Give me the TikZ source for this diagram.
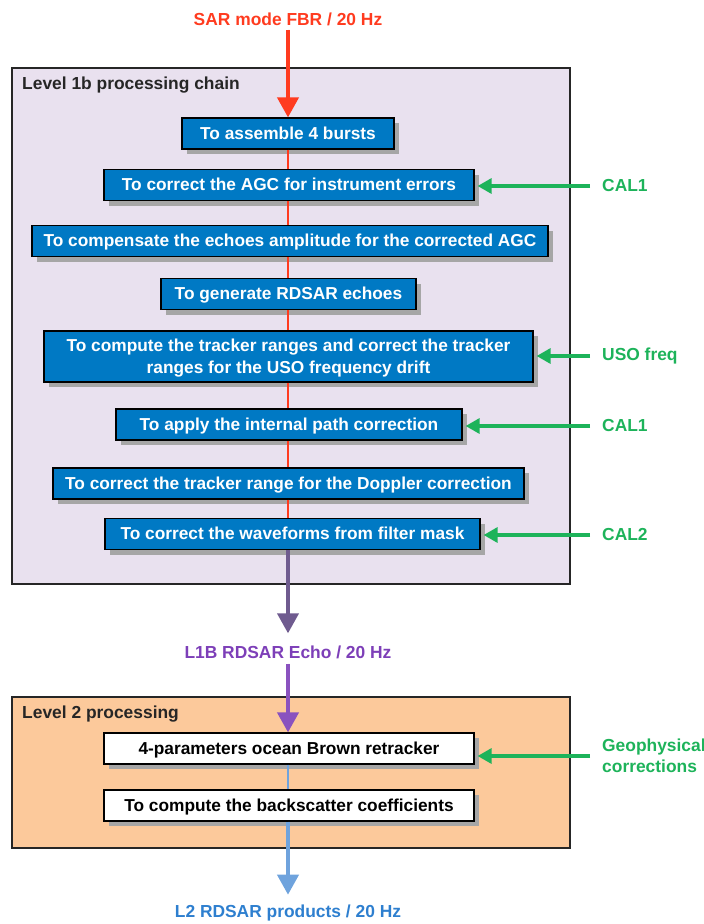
\documentclass[tikz,border=0pt]{standalone}
\usepackage{fontspec}
\setmainfont{Liberation Sans}
\usetikzlibrary{arrows.meta,positioning,shadows}
\definecolor{boxblue}{HTML}{0079C4}
\definecolor{chainfill}{HTML}{E9E1EF}
\definecolor{levelfill}{HTML}{FCC99B}
\definecolor{framegray}{HTML}{262626}
\definecolor{shadowgray}{HTML}{A6A6A6}
\definecolor{inred}{HTML}{FF3B1F}
\definecolor{calgreen}{HTML}{1DB35A}
\definecolor{echopurple}{HTML}{6F5B8F}
\definecolor{lblpurple}{HTML}{7D3FB8}
\definecolor{prodblue}{HTML}{6FA3DD}
\definecolor{lblblue}{HTML}{2E7FCF}
\tikzset{
    frame/.style={draw=framegray, line width=1.5pt},
    title/.style={anchor=west, font=\bfseries\fontsize{17.4}{20}\selectfont, text=framegray, inner sep=0pt},
    stepbox/.style={draw=black, line width=1.2pt, minimum height=31pt, inner sep=0pt,
        font=\bfseries\fontsize{17.3}{21.5}\selectfont, align=center, text depth=1pt,
        drop shadow={shadow xshift=5pt, shadow yshift=-5pt, fill=shadowgray, opacity=1}},
    bluebox/.style={stepbox, fill=boxblue, text=white},
    whitebox/.style={stepbox, fill=white, text=black},
    flowlbl/.style={font=\bfseries\fontsize{17.4}{20.5}\selectfont, inner sep=0pt, align=left},
    link/.style={draw=inred, line width=1.8pt},
    bigarrow/.style={line width=4pt, -{Triangle[length=20pt,width=21pt]}},
    calarrow/.style={draw=calgreen, line width=3.2pt, -{Triangle[length=14pt,width=15pt]},
        shorten <=12pt, shorten >=3pt},
}
\begin{document}
\begin{tikzpicture}[x=1pt, y=-1pt]
\useasboundingbox (0,0) rectangle (704,924);
% frames
\draw[frame, fill=chainfill] (12,68) rectangle (570,584);
\draw[frame, fill=levelfill] (12,697) rectangle (570,848);
\node[title] (chaintitle) at (22,85) {Level 1b processing chain};
\node[title] (leveltitle) at (22,714) {Level 2 processing};
% Level 1b steps
\node[bluebox, minimum width=212pt] (burst) at (288,133.5) {To assemble 4 bursts};
\node[bluebox, minimum width=370pt] (agc) at (289,185) {To correct the AGC for instrument errors};
\node[bluebox, minimum width=516pt] (amp) at (290,241) {To compensate the echoes amplitude for the corrected AGC};
\node[bluebox, minimum width=255pt] (rdsar) at (288.5,294) {To generate RDSAR echoes};
\node[bluebox, minimum width=489pt, minimum height=51pt] (uso) at (288.5,356.5) {To compute the tracker ranges and correct the tracker\\ranges for the USO frequency drift};
\node[bluebox, minimum width=346pt] (ipc) at (289,424.5) {To apply the internal path correction};
\node[bluebox, minimum width=471pt] (doppler) at (288.5,483.5) {To correct the tracker range for the Doppler correction};
\node[bluebox, minimum width=375pt] (mask) at (292.5,534) {To correct the waveforms from filter mask};
% Level 2 steps
\node[whitebox, minimum width=370pt] (brown) at (289,748.5) {4-parameters ocean Brown retracker};
\node[whitebox, minimum width=370pt] (sigma) at (289,805.5) {To compute the backscatter coefficients};
% inputs and outputs
\node[flowlbl, text=inred] (inputlbl) at (288,19) {SAR mode FBR / 20 Hz};
\node[flowlbl, text=lblpurple] (l1blbl) at (288,652) {L1B RDSAR Echo / 20 Hz};
\node[flowlbl, text=lblblue] (l2lbl) at (288,913) {L2 RDSAR products / 20 Hz};
\node[flowlbl, text=calgreen, anchor=west] (cal1a) at (602,186) {CAL1};
\node[flowlbl, text=calgreen, anchor=west] (usolbl) at (602,356) {USO freq};
\node[flowlbl, text=calgreen, anchor=west] (cal1b) at (602,426) {CAL1};
\node[flowlbl, text=calgreen, anchor=west] (cal2) at (602,535) {CAL2};
\node[flowlbl, text=calgreen, anchor=west] (geolbl) at (602,756) {Geophysical\\corrections};
% chain links
\foreach \a/\b in {burst/agc, agc/amp, amp/rdsar, rdsar/uso, uso/ipc, ipc/doppler, doppler/mask}
    \draw[link] (\a.south -| burst) -- (\b.north -| burst);
\draw[draw=prodblue, line width=2.5pt] (brown.south -| 288,0) -- (sigma.north -| 288,0);
% arrows
\draw[bigarrow, draw=inred, fill=inred, shorten <=4pt] (inputlbl.south) -- (burst.north);
\draw[bigarrow, draw=echopurple, fill=echopurple, shorten >=12pt] (mask.south -| 288,0) -- (l1blbl.north);
\draw[bigarrow, draw=lblpurple!90, fill=lblpurple!90, shorten <=5pt] (l1blbl.south) -- (brown.north -| 288,0);
\draw[bigarrow, draw=prodblue, fill=prodblue, shorten >=10pt] (sigma.south -| 288,0) -- (l2lbl.north);
\draw[calarrow] (cal1a.west) -- (agc.east |- cal1a.west);
\draw[calarrow] (usolbl.west) -- (uso.east |- usolbl.west);
\draw[calarrow] (cal1b.west) -- (ipc.east |- cal1b.west);
\draw[calarrow] (cal2.west) -- (mask.east |- cal2.west);
\draw[calarrow] (geolbl.west) -- (brown.east |- geolbl.west);
\end{tikzpicture}
\end{document}
